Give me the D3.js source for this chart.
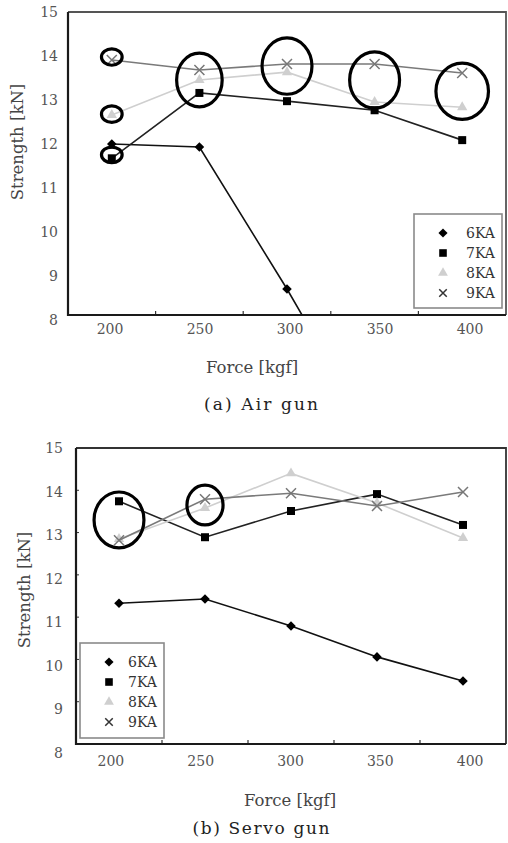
<!DOCTYPE html>
<html><head><meta charset="utf-8">
<script src="https://cdn.jsdelivr.net/npm/d3@7"></script>
<style>body{margin:0;background:#fff}svg{display:block}</style>
</head><body><svg id="c" width="508" height="843"></svg>
<script>
// ---------- data ----------
const categories = [200, 250, 300, 350, 400];
const seriesNames = ["6KA", "7KA", "8KA", "9KA"];
const yTicks = [8, 9, 10, 11, 12, 13, 14, 15];
const xTitle = "Force [kgf]";
const yTitle = "Strength [kN]";
const captions = ["(a) Air gun", "(b) Servo gun"];

// (a) Air gun
const airGun6KA = [11.95, 11.88, 8.60, 5.1, null];
const airGun7KA = [11.62, 13.13, 12.94, 12.73, 12.04];
const airGun8KA = [12.62, 13.43, 13.61, 12.92, 12.80];
const airGun9KA = [13.89, 13.66, 13.80, 13.80, 13.59];

// (b) Servo gun
const servoGun6KA = [11.33, 11.43, 10.79, 10.06, 9.49];
const servoGun7KA = [13.74, 12.89, 13.51, 13.91, 13.18];
const servoGun8KA = [12.85, 13.58, 14.40, 13.70, 12.87];
const servoGun9KA = [12.82, 13.79, 13.93, 13.63, 13.96];

// highlight rings: category, centre value (kN), half-width (share of a category), half-height (kN)
const airRingCat = [200, 200, 200, 250, 300, 350, 400];
const airRingVal = [13.96, 12.64, 11.70, 13.43, 13.75, 13.43, 13.17];
const airRingW   = [0.118, 0.118, 0.118, 0.26, 0.285, 0.285, 0.30];
const airRingH   = [0.19, 0.19, 0.18, 0.62, 0.65, 0.65, 0.65];
const servoRingCat = [200, 250];
const servoRingVal = [13.30, 13.65];
const servoRingW   = [0.29, 0.21];
const servoRingH   = [0.66, 0.47];

// ---------- styles ----------
const seriesStyle = {
  "6KA": {line: "#111", marker: "diamond", fill: "#000", lfill: "#000"},
  "7KA": {line: "#222", marker: "square", fill: "#000", lfill: "#000"},
  "8KA": {line: "#cfcfcf", marker: "triangle", fill: "#cfcfcf", lfill: "#cfcfcf"},
  "9KA": {line: "#7a7a7a", marker: "cross", fill: "#777", lfill: "#333"}
};
const FONT = "'DejaVu Serif', serif";
const svg = d3.select("#c");

function marker(g, type, color, scale) {
  const k = scale || 1;
  if (type === "diamond") {
    g.append("path").attr("d", d3.symbol(d3.symbolSquare, 46 * k * k)())
      .attr("transform", "rotate(45)").attr("fill", color);
  } else if (type === "square") {
    g.append("path").attr("d", d3.symbol(d3.symbolSquare, 64 * k * k)()).attr("fill", color);
  } else if (type === "triangle") {
    g.append("path").attr("d", d3.symbol(d3.symbolTriangle, 46 * k * k)()).attr("fill", color);
  } else {
    const r = 5 * k;
    g.append("path").attr("d", `M${-r},${-r}L${r},${r}M${-r},${r}L${r},${-r}`)
      .attr("stroke", color).attr("stroke-width", 1.5).attr("fill", "none");
  }
}

function drawChart(id, L, series, rings) {
  const x = d3.scaleBand().domain(categories).range([L.left, L.right]).padding(0);
  const y = d3.scaleLinear().domain([8, 15]).range([L.bottom, L.top]);
  // label scales (the tick labels in the original sit on a slightly wider spread than the frame)
  const xLab = d3.scaleBand().domain(categories).range(L.xLabRange).padding(0);
  const yLab = d3.scaleLinear().domain([8, 15]).range([L.bottom + L.yLabStretch, L.top]);
  const cx = c => x(c) + x.bandwidth() / 2;
  const root = svg.append("g");

  root.append("clipPath").attr("id", "clip" + id).append("rect")
    .attr("x", L.left).attr("y", L.top).attr("width", L.right - L.left).attr("height", L.bottom - L.top);

  // y tick labels
  const ya = root.append("g").attr("transform", `translate(${L.yLabelX},0)`)
    .call(d3.axisLeft(yLab).tickValues(yTicks).tickSize(0).tickPadding(0).tickFormat(d3.format("d")));
  ya.select(".domain").remove();
  ya.selectAll("text").attr("font-family", FONT).attr("font-size", 14).attr("fill", "#555");

  // x tick labels
  const xa = root.append("g").attr("transform", `translate(0,${L.xLabelY - 8})`)
    .call(d3.axisBottom(xLab).tickSize(0).tickPadding(0));
  xa.select(".domain").remove();
  xa.selectAll("text").attr("font-family", FONT).attr("font-size", 14).attr("fill", "#555");

  // y ticks on left axis (optional)
  if (L.yTickLen) {
    root.selectAll(".yt").data(yTicks.slice(1, -1)).join("line")
      .attr("x1", L.left).attr("x2", L.left + L.yTickLen)
      .attr("y1", d => y(d)).attr("y2", d => y(d)).attr("stroke", "#333").attr("stroke-width", 1);
  }
  // x category boundary ticks
  root.selectAll(".xt").data(categories.slice(1)).join("line")
    .attr("x1", d => x(d)).attr("x2", d => x(d))
    .attr("y1", L.bottom).attr("y2", L.bottom - 4).attr("stroke", "#333").attr("stroke-width", 1.2);

  // frame
  root.append("path")
    .attr("d", `M${L.left},${L.top}H${L.right}V${L.bottom}`)
    .attr("fill", "none").attr("stroke", L.frameColor).attr("stroke-width", 1.8);
  root.append("path")
    .attr("d", `M${L.left},${L.top}V${L.bottom}H${L.right}`)
    .attr("fill", "none").attr("stroke", "#1a1a1a").attr("stroke-width", 2.2);

  // series
  const plot = root.append("g").attr("clip-path", `url(#clip${id})`);
  seriesNames.forEach((name, si) => {
    const vals = series[si];
    const st = seriesStyle[name];
    const pts = categories.map((c, i) => ({c, v: vals[i]}));
    const line = d3.line().defined(d => d.v != null).x(d => cx(d.c)).y(d => y(d.v));
    plot.append("path").datum(pts).attr("d", line)
      .attr("fill", "none").attr("stroke", st.line).attr("stroke-width", 1.6);
    pts.filter(d => d.v != null).forEach(d => {
      const g = plot.append("g").attr("transform", `translate(${cx(d.c)},${y(d.v)})`);
      marker(g, st.marker, st.fill, 1);
    });
  });

  // rings
  rings.cat.forEach((c, i) => {
    root.append("ellipse")
      .attr("cx", cx(c)).attr("cy", y(rings.val[i]))
      .attr("rx", rings.w[i] * x.bandwidth())
      .attr("ry", y(15 - rings.h[i]) - y(15))
      .attr("fill", "none").attr("stroke", "#000").attr("stroke-width", 3.2);
  });

  // legend
  const lg = root.append("g").attr("transform", `translate(${L.legend.x},${L.legend.y})`);
  lg.append("rect").attr("width", L.legend.w).attr("height", L.legend.h)
    .attr("fill", "#fff").attr("stroke", "#8a8a8a").attr("stroke-width", 1.6);
  seriesNames.forEach((name, i) => {
    const st = seriesStyle[name];
    const yy = 19 + i * 20;
    const g = lg.append("g").attr("transform", `translate(${L.legend.mx},${yy})`);
    marker(g, st.marker, st.lfill, name === "9KA" ? 0.75 : 0.95);
    lg.append("text").attr("x", L.legend.tx).attr("y", yy).attr("dy", "0.36em")
      .attr("font-family", FONT).attr("font-size", 14).attr("fill", "#333").text(name);
  });

  // titles
  root.append("text").attr("x", L.xTitle[0]).attr("y", L.xTitle[1]).attr("dy", "0.36em")
    .attr("text-anchor", "middle").attr("font-family", FONT).attr("font-size", 16.5)
    .attr("fill", "#444").text(xTitle);
  root.append("text").attr("transform", `translate(${L.yTitle[0]},${L.yTitle[1]}) rotate(-90)`)
    .attr("text-anchor", "middle").attr("font-family", FONT).attr("font-size", 16.5)
    .attr("fill", "#444").text(yTitle);
  root.append("text").attr("x", L.caption[0]).attr("y", L.caption[1]).attr("dy", "0.36em")
    .attr("text-anchor", "middle").attr("font-family", FONT).attr("font-size", 17)
    .attr("textLength", L.caption[2]).attr("lengthAdjust", "spacing")
    .attr("fill", "#222").text(L.captionText);
}

drawChart("a", {
  left: 68, right: 506, top: 12, bottom: 315, yLabelX: 58, xLabelY: 332,
  xLabRange: [65, 515], yLabStretch: 5,
  frameColor: "#555", yTickLen: 0,
  xTitle: [252, 367], yTitle: [23, 142], caption: [261, 404, 114], captionText: captions[0],
  legend: {x: 414, y: 214, w: 88, h: 94, mx: 29, tx: 52}
}, [airGun6KA, airGun7KA, airGun8KA, airGun9KA],
  {cat: airRingCat, val: airRingVal, w: airRingW, h: airRingH});

drawChart("b", {
  left: 76, right: 506, top: 448, bottom: 744, yLabelX: 63, xLabelY: 764,
  xLabRange: [66, 515], yLabStretch: 9,
  frameColor: "#333", yTickLen: 3,
  xTitle: [290, 800], yTitle: [30, 590], caption: [261, 828, 137], captionText: captions[1],
  legend: {x: 80, y: 643, w: 84, h: 95, mx: 29, tx: 48}
}, [servoGun6KA, servoGun7KA, servoGun8KA, servoGun9KA],
  {cat: servoRingCat, val: servoRingVal, w: servoRingW, h: servoRingH});
</script></body></html>
